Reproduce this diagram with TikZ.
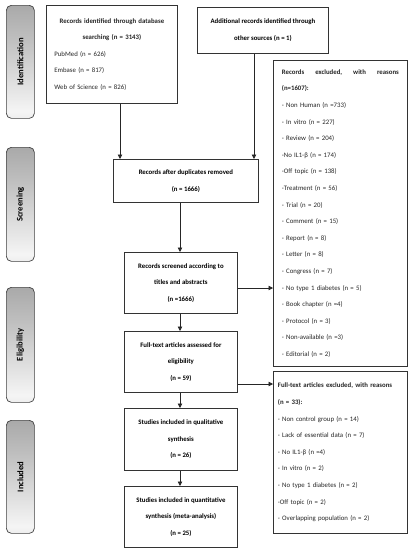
\documentclass[tikz,border=0pt]{standalone}
\usepackage{fontspec}
\setmainfont{Carlito}
\usetikzlibrary{arrows.meta,calc}
\pgfdeclareverticalshading{sideshade}{100bp}{color(0bp)=(black!42); color(10bp)=(black!22); color(28bp)=(black!4); color(60bp)=(black!25); color(100bp)=(black!48)}
\begin{document}
\begin{tikzpicture}[x=1pt,y=-1pt,
  box/.style={draw=black!80, line width=0.8pt, anchor=north west, inner sep=0pt, align=center,
    font=\fontsize{6.8}{16.6}\selectfont\bfseries, text=black},
  listbox/.style={draw=black!80, line width=0.8pt, anchor=north west, inner ysep=0pt, inner xsep=8.5pt,
    align=left, text width=117pt, font=\fontsize{6.8}{16.6}\selectfont, text=black!85},
  side/.style={draw=black!75, line width=0.7pt, rounded corners=5pt, anchor=north west, shading=sideshade,
    minimum width=28pt, inner sep=0pt},
  sidetext/.style={rotate=90, font=\fontsize{8.6}{10}\selectfont\bfseries, text=black},
  arr/.style={draw=black!85, line width=0.8pt, -{Triangle[length=4.5pt,width=4.5pt]}},
  ln/.style={draw=black!85, line width=0.8pt}]
\useasboundingbox (0,0) rectangle (412,550);
\fill[white] (0,0) rectangle (412,550);

% side labels
\node[side, minimum height=113pt] (S1) at (6,5) {};
\node[sidetext] (T1) at (S1.center) {Identification};
\node[side, minimum height=114pt] (S2) at (6,147) {};
\node[sidetext] (T2) at (S2.center) {Screening};
\node[side, minimum height=115pt] (S3) at (6,287) {};
\node[sidetext] (T3) at (S3.center) {Eligibility};
\node[side, minimum height=113pt] (S4) at (6,420) {};
\node[sidetext] (T4) at (S4.center) {Included};

% main boxes
\node[listbox, text width=115pt, inner xsep=8pt, minimum height=98pt] (B1) at (46,5)
 {\makebox[\linewidth][c]{\bfseries Records identified through database}\\
  \makebox[\linewidth][c]{\bfseries searching (n = 3143)}\\
  PubMed (n = 626)\\
  Embase (n = 817)\\
  Web of Science (n = 826)};
\node[box, minimum width=131pt, minimum height=46pt] (B2) at (197,7)
 {Additional records identified through\\ other sources (n = 1)};
\node[box, minimum width=145pt, minimum height=43pt] (B3) at (113,159)
 {Records after duplicates removed\\ (n = 1666)};
\node[box, minimum width=113pt, minimum height=61pt] (B4) at (124,252)
 {Records screened according to\\ titles and abstracts\\ (n =1666)};
\node[box, minimum width=113pt, minimum height=61pt] (B5) at (124,331)
 {Full-text articles assessed for\\ eligibility\\ (n = 59)};
\node[box, minimum width=113pt, minimum height=62pt] (B6) at (124,408)
 {Studies included in qualitative\\ synthesis\\ (n = 26)};
\node[box, minimum width=113pt, minimum height=61pt] (B7) at (124,486)
 {Studies included in quantitative\\ synthesis (meta-analysis)\\ (n = 25)};

% excluded boxes
\node[listbox, minimum height=306pt] (E1) at (273,60)
 {{\bfseries Records\hfill excluded,\hfill with\hfill reasons}\\
  {\bfseries (n=1607):}\\
  - Non Human (n =733)\\
  - In vitro (n = 227)\\
  - Review (n = 204)\\
  -No IL1-β (n = 174)\\
  -Off topic (n = 138)\\
  -Treatment (n = 56)\\
  - Trial (n = 20)\\
  - Comment (n = 15)\\
  - Report (n = 8)\\
  - Letter (n = 8)\\
  - Congress (n = 7)\\
  - No type 1 diabetes (n = 5)\\
  - Book chapter (n =4)\\
  - Protocol (n = 3)\\
  - Non-available (n =3)\\
  - Editorial (n = 2)};
\node[listbox, inner xsep=4.5pt, text width=125pt, minimum height=162pt] (E2) at (273,371)
 {{\bfseries Full-text articles excluded, with reasons}\\
  {\bfseries (n = 33):}\\
  - Non control group (n = 14)\\
  - Lack of essential data (n = 7)\\
  - No IL1-β (n =4)\\
  - In vitro (n = 2)\\
  - No type 1 diabetes (n = 2)\\
  -Off topic (n = 2)\\
  - Overlapping population (n = 2)};

% connectors
\draw[arr] (B1.south -| 120,0) -- (B3.north -| 120,0);
\draw[arr] (B2.south -| 254,0) -- (B3.north -| 254,0);
\draw[arr] (B3.south -| 180,0) -- (B4.north -| 180,0);
\draw[arr] (B4.south -| 180,0) -- (B5.north -| 180,0);
\draw[arr] (B5.south -| 180,0) -- (B6.north -| 180,0);
\draw[arr] (B6.south -| 180,0) -- (B7.north -| 180,0);
\draw[arr] (B4.east |- 0,288) -- (E1.west |- 0,288);
\draw[arr] (B5.east |- 0,384) -- (E2.west |- 0,384);
\end{tikzpicture}
\end{document}
